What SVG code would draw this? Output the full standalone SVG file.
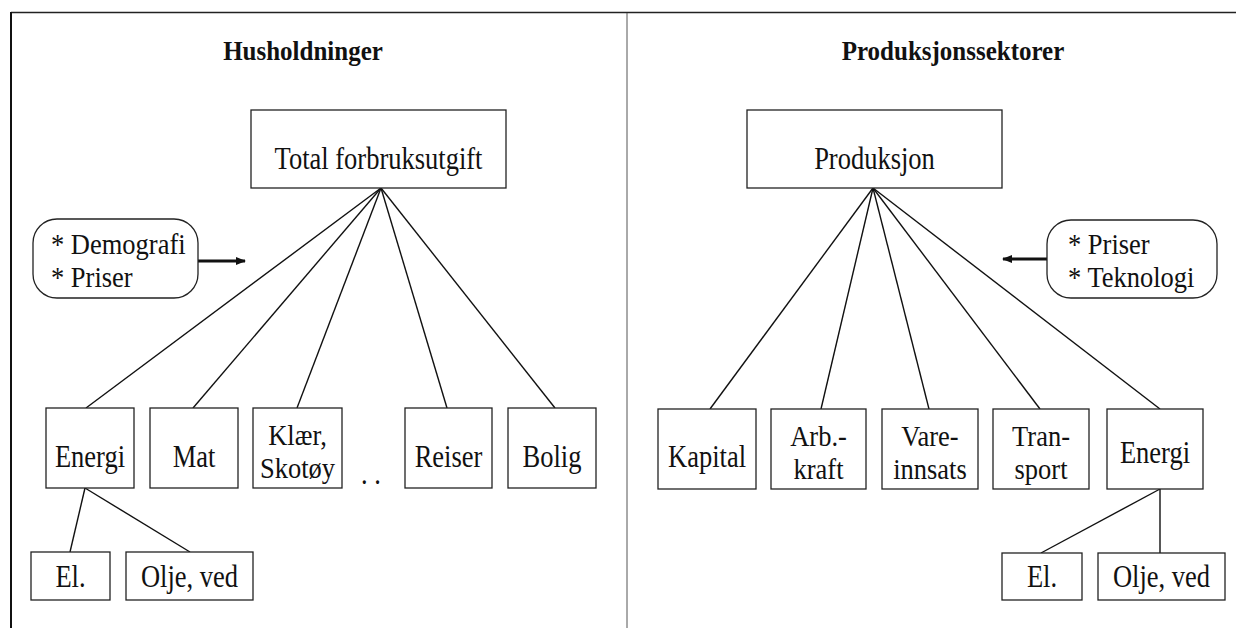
<svg xmlns="http://www.w3.org/2000/svg" width="1236" height="628" viewBox="0 0 1236 628">
<style>
text{font-family:"Liberation Serif","Times New Roman",serif;font-size:26.5px;fill:#111}
.t{font-weight:bold;font-size:25px;text-anchor:middle}
.c{text-anchor:middle}
.b{fill:#fff;stroke:#222;stroke-width:1.3}
.l{stroke:#111;stroke-width:1.4;fill:none}
.a{stroke:#111;stroke-width:3;fill:none}
</style>
<defs>
<marker id="ah" markerWidth="10" markerHeight="8" refX="9" refY="4" orient="auto" markerUnits="userSpaceOnUse">
<path d="M0,0 L10,4 L0,8 Z" fill="#111"/>
</marker>
</defs>
<rect width="1236" height="628" fill="#fff"/>
<g id="frame">
<line x1="11" y1="12.5" x2="1236" y2="12.5" stroke="#222" stroke-width="1.6"/>
<line x1="11" y1="12" x2="11" y2="628" stroke="#111" stroke-width="2"/>
<line x1="627" y1="13" x2="627" y2="628" stroke="#555" stroke-width="1"/>
</g>
<g id="titles">
<text class="t" transform="translate(303,60) scale(1,1.1)">Husholdninger</text>
<text class="t" transform="translate(953,60) scale(1,1.1)">Produksjonssektorer</text>
</g>
<g id="connectors">
<line class="l" x1="381" y1="188" x2="86" y2="408"/>
<line class="l" x1="381" y1="188" x2="193" y2="408"/>
<line class="l" x1="381" y1="188" x2="297" y2="408"/>
<line class="l" x1="381" y1="188" x2="447" y2="408"/>
<line class="l" x1="381" y1="188" x2="555" y2="408"/>
<line class="l" x1="85" y1="488" x2="70" y2="552"/>
<line class="l" x1="85" y1="488" x2="190" y2="552"/>
<line class="l" x1="873" y1="188" x2="710" y2="409"/>
<line class="l" x1="873" y1="188" x2="821" y2="409"/>
<line class="l" x1="873" y1="188" x2="929" y2="409"/>
<line class="l" x1="873" y1="188" x2="1040" y2="409"/>
<line class="l" x1="873" y1="188" x2="1160" y2="409"/>
<line class="l" x1="1160" y1="489" x2="1041" y2="553"/>
<line class="l" x1="1160" y1="489" x2="1160" y2="553"/>
<line class="a" x1="198" y1="261" x2="245" y2="261" marker-end="url(#ah)"/>
<line class="a" x1="1047" y1="259" x2="1003" y2="259" marker-end="url(#ah)"/>
</g>
<g id="total">
<rect class="b" x="251" y="110" width="255" height="78"/>
<text class="c" transform="translate(378.5,169) scale(1,1.2)">Total forbruksutgift</text>
</g>
<g id="demografi">
<rect class="b" x="33" y="219" width="165" height="79" rx="24"/>
<text transform="translate(51,254) scale(1,1.1)">* Demografi</text>
<text transform="translate(51,287) scale(1,1.1)">* Priser</text>
</g>
<g id="h-energi"><rect class="b" x="46" y="408" width="88" height="80"/><text class="c" transform="translate(90,467) scale(1,1.2)">Energi</text></g>
<g id="mat"><rect class="b" x="150" y="408" width="88" height="80"/><text class="c" transform="translate(194,467) scale(1,1.2)">Mat</text></g>
<g id="klaer"><rect class="b" x="253" y="408" width="89" height="80"/><text class="c" transform="translate(297.5,445) scale(1,1.1)">Klær,</text><text class="c" transform="translate(297.5,478) scale(1,1.1)">Skotøy</text></g>
<g id="dots"><text transform="translate(361,484) scale(1,1.2)">. .</text></g>
<g id="reiser"><rect class="b" x="405" y="408" width="87" height="80"/><text class="c" transform="translate(448.5,467) scale(1,1.2)">Reiser</text></g>
<g id="bolig"><rect class="b" x="508" y="408" width="88" height="80"/><text class="c" transform="translate(552,467) scale(1,1.2)">Bolig</text></g>
<g id="h-el"><rect class="b" x="31" y="552" width="79" height="48"/><text class="c" transform="translate(70.5,587) scale(1,1.2)">El.</text></g>
<g id="h-olje"><rect class="b" x="126" y="552" width="127" height="48"/><text class="c" transform="translate(189.5,587) scale(1,1.2)">Olje, ved</text></g>
<g id="produksjon">
<rect class="b" x="747" y="110" width="255" height="78"/>
<text class="c" transform="translate(874.5,169) scale(1,1.2)">Produksjon</text>
</g>
<g id="teknologi">
<rect class="b" x="1047" y="220" width="170" height="78" rx="24"/>
<text transform="translate(1068,254) scale(1,1.1)">* Priser</text>
<text transform="translate(1068,287) scale(1,1.1)">* Teknologi</text>
</g>
<g id="kapital"><rect class="b" x="658" y="409" width="98" height="80"/><text class="c" transform="translate(707,467) scale(1,1.2)">Kapital</text></g>
<g id="arb"><rect class="b" x="771" y="409" width="95" height="80"/><text class="c" transform="translate(818.5,446) scale(1,1.1)">Arb.-</text><text class="c" transform="translate(818.5,479) scale(1,1.1)">kraft</text></g>
<g id="vare"><rect class="b" x="882" y="409" width="96" height="80"/><text class="c" transform="translate(930,446) scale(1,1.1)">Vare-</text><text class="c" transform="translate(930,479) scale(1,1.1)">innsats</text></g>
<g id="tran"><rect class="b" x="993" y="409" width="96" height="80"/><text class="c" transform="translate(1041,446) scale(1,1.1)">Tran-</text><text class="c" transform="translate(1041,479) scale(1,1.1)">sport</text></g>
<g id="p-energi"><rect class="b" x="1107" y="409" width="96" height="80"/><text class="c" transform="translate(1155,463) scale(1,1.2)">Energi</text></g>
<g id="p-el"><rect class="b" x="1002" y="553" width="80" height="47"/><text class="c" transform="translate(1042,587) scale(1,1.2)">El.</text></g>
<g id="p-olje"><rect class="b" x="1098" y="553" width="127" height="47"/><text class="c" transform="translate(1161.5,587) scale(1,1.2)">Olje, ved</text></g>
</svg>
